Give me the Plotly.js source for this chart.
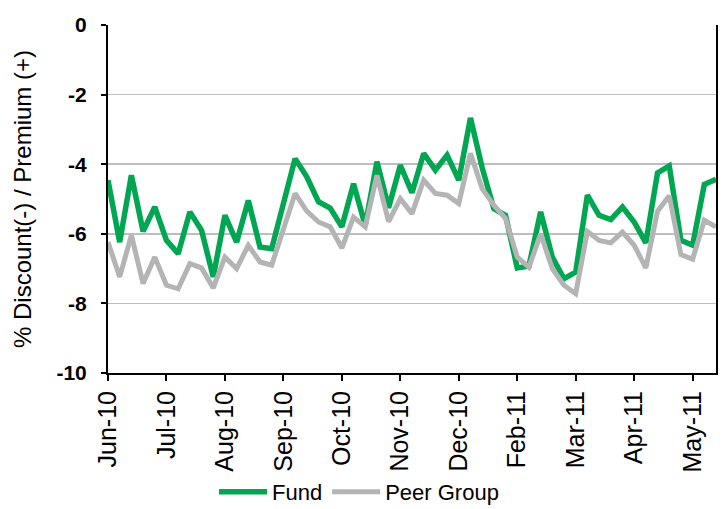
<!DOCTYPE html>
<html>
<head>
<meta charset="utf-8">
<script src="https://cdn.plot.ly/plotly-3.0.1.min.js"></script>
<style>
  html, body { margin: 0; padding: 0; background: #ffffff; }
  #chart { width: 724px; height: 509px; }
</style>
</head>
<body>
<div id="chart"></div>
<script>
// Weekly observation dates (Fridays), June 2010 - June 2011
const startDate = new Date(Date.UTC(2010, 5, 4));
const weekCount = 53;
const dates = [];
for (let i = 0; i < weekCount; i++) {
  const d = new Date(startDate.getTime() + i * 7 * 86400000);
  dates.push(d.toISOString().slice(0, 10));
}

// % Discount(-) / Premium(+) — Fund
const fundValues = [
  -4.46, -6.24, -4.32, -5.93, -5.23, -6.19, -6.57, -5.37, -5.90, -7.24,
  -5.47, -6.24, -5.04, -6.38, -6.43, -5.10, -3.84, -4.36, -5.08, -5.26,
  -5.80, -4.56, -5.76, -3.93, -5.25, -4.03, -4.82, -3.69, -4.17, -3.74,
  -4.46, -2.67, -4.10, -5.28, -5.47, -6.98, -6.93, -5.37, -6.67, -7.29,
  -7.10, -4.89, -5.47, -5.59, -5.23, -5.66, -6.26, -4.25, -4.05, -6.19,
  -6.33, -4.58, -4.43
];

// % Discount(-) / Premium(+) — Peer Group
const peerValues = [
  -6.24, -7.24, -6.04, -7.43, -6.67, -7.48, -7.58, -6.86, -6.98, -7.56,
  -6.67, -7.00, -6.33, -6.81, -6.90, -5.87, -4.84, -5.35, -5.66, -5.80,
  -6.41, -5.52, -5.80, -4.32, -5.65, -4.99, -5.42, -4.46, -4.84, -4.89,
  -5.13, -3.69, -4.70, -5.18, -5.56, -6.67, -6.96, -6.00, -7.00, -7.48,
  -7.72, -5.93, -6.19, -6.26, -5.95, -6.33, -6.98, -5.35, -4.91, -6.60,
  -6.73, -5.61, -5.80
];

// Tick marks every fifth week
const tickDates = dates.filter((d, i) => i % 5 === 0);
const yTicks = [0, -2, -4, -6, -8, -10];

const seriesNames = ['Fund', 'Peer Group'];

const traces = [
  {
    x: dates, y: fundValues, name: seriesNames[0],
    type: 'scatter', mode: 'lines',
    line: { color: '#00A651', width: 5.5 }
  },
  {
    x: dates, y: peerValues, name: seriesNames[1],
    type: 'scatter', mode: 'lines',
    line: { color: '#B4B4B4', width: 5 }
  }
];

const layout = {
  width: 724, height: 509,
  margin: { l: 108, r: 8, t: 25, b: 136 },
  paper_bgcolor: '#ffffff',
  plot_bgcolor: '#ffffff',
  font: { family: 'Liberation Sans, Arial, sans-serif', color: '#000000' },
  showlegend: true,
  legend: {
    orientation: 'h',
    xref: 'container', yref: 'container',
    x: 0.2956, xanchor: 'left',
    y: 0.075, yanchor: 'top',
    itemwidth: 48,
    font: { size: 22, family: 'Liberation Sans, Arial, sans-serif', color: '#000000' },
    bgcolor: 'rgba(0,0,0,0)'
  },
  xaxis: {
    type: 'date',
    range: [dates[0], dates[dates.length - 1]],
    tickmode: 'array',
    tickvals: tickDates,
    tickformat: '%b-%y',
    tickangle: -90,
    tickfont: { size: 25, family: 'Liberation Sans, Arial, sans-serif' },
    ticks: 'outside', ticklen: 6, tickwidth: 2, tickcolor: '#000000',
    showline: true, linecolor: '#000000', linewidth: 2,
    showgrid: false, zeroline: false,
    automargin: false
  },
  yaxis: {
    range: [-10, 0],
    tickmode: 'array',
    tickvals: yTicks,
    ticktext: yTicks.map(String),
    tickfont: { size: 21, family: 'Liberation Sans, Arial, sans-serif', weight: 'bold' },
    ticklabelstandoff: 10,
    ticks: 'outside', ticklen: 5, tickwidth: 2, tickcolor: '#000000',
    showline: true, linecolor: '#000000', linewidth: 2, mirror: true,
    showgrid: true, gridcolor: '#BEBEBE', gridwidth: 1.5,
    zeroline: false,
    automargin: false,
    title: {
      text: '% Discount(-) / Premium (+)',
      font: { size: 24, family: 'Liberation Sans, Arial, sans-serif' },
      standoff: 18
    }
  }
};

Plotly.newPlot('chart', traces, layout, { displayModeBar: false, staticPlot: true });
</script>
</body>
</html>
